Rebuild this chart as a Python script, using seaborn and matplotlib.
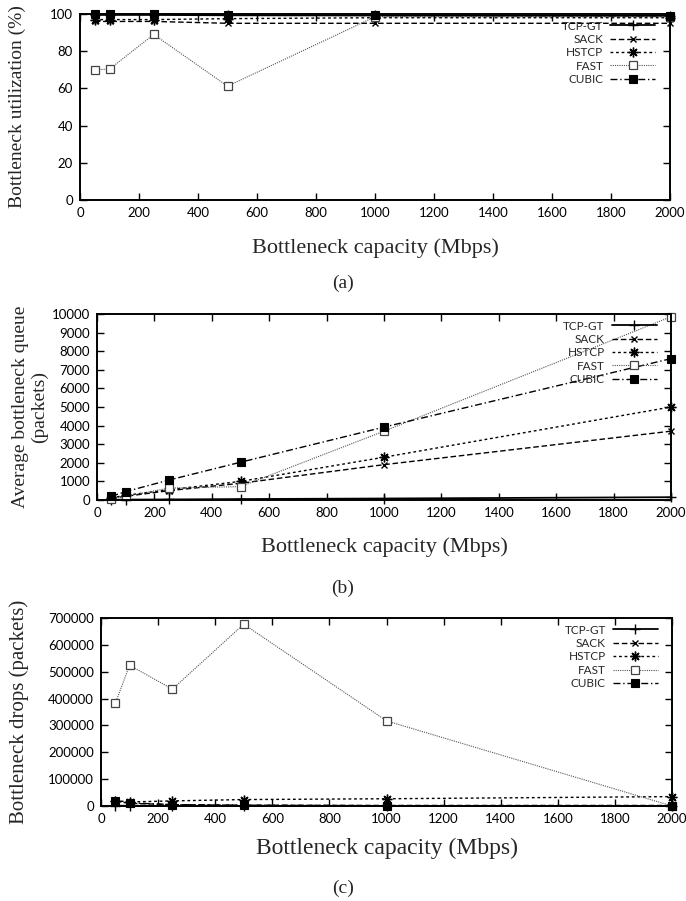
import numpy as np
import pandas as pd
import matplotlib
matplotlib.use("Agg")
import matplotlib.pyplot as plt
import seaborn as sns

# ---------------- data ----------------
capacity = [50, 100, 250, 500, 1000, 2000]
protocols = ["TCP-GT", "SACK", "HSTCP", "FAST", "CUBIC"]

util_tcpgt = [99.5, 99.5, 99.5, 99.3, 99.2, 99.0]
util_sack = [96.0, 96.0, 96.0, 95.0, 95.0, 95.0]
util_hstcp = [97.0, 97.0, 97.0, 97.5, 98.0, 98.0]
util_fast = [70.0, 70.4, 89.0, 61.2, 98.5, 98.5]
util_cubic = [100.0, 100.0, 100.0, 99.5, 99.2, 99.0]

queue_tcpgt = [10, 20, 30, 50, 80, 150]
queue_sack = [100, 200, 500, 900, 1900, 3700]
queue_hstcp = [120, 250, 550, 1000, 2300, 5000]
queue_fast = [60, 200, 640, 720, 3700, 9850]
queue_cubic = [200, 450, 1070, 2030, 3920, 7600]

drops_tcpgt = [1000, 800, 600, 500, 400, 300]
drops_sack = [18000, 10000, 5000, 3000, 2000, 2000]
drops_hstcp = [20000, 15000, 19000, 24000, 27000, 35000]
drops_fast = [382000, 524000, 435000, 677000, 317000, 0]
drops_cubic = [20000, 12000, 5000, 3000, 1000, 1000]

xticks = [0, 200, 400, 600, 800, 1000, 1200, 1400, 1600, 1800, 2000]
yticks_a = [0, 20, 40, 60, 80, 100]
yticks_b = [0, 1000, 2000, 3000, 4000, 5000, 6000, 7000, 8000, 9000, 10000]
yticks_c = [0, 100000, 200000, 300000, 400000, 500000, 600000, 700000]

xlabel = "Bottleneck capacity (Mbps)"
ylabels = ["Bottleneck utilization (%)",
           "Average bottleneck queue\n(packets)",
           "Bottleneck drops (packets)"]
panel_tags = ["(a)", "(b)", "(c)"]

# ---------------- style ----------------
sns.set_style("ticks")
plt.rcParams["font.family"] = ["Lato", "DejaVu Sans"]
SERIF = ["Liberation Serif", "DejaVu Serif"]

styles = {
    "TCP-GT": dict(color="black", linestyle="-", marker="+", markersize=7,
                   markeredgecolor="black", markeredgewidth=1.0, linewidth=1.3),
    "SACK": dict(color="black", linestyle=(0, (4, 2)), marker="x", markersize=5,
                 markeredgecolor="black", markeredgewidth=1.0, linewidth=1.0),
    "HSTCP": dict(color="black", linestyle=(0, (2, 2)), marker=(8, 2, 0), markersize=7,
                  markeredgecolor="black", markeredgewidth=1.0, linewidth=1.0),
    "FAST": dict(color="#555555", linestyle=(0, (1, 1)), marker="s", markersize=6,
                 markeredgecolor="#444444", markerfacecolor="white",
                 markeredgewidth=0.9, linewidth=0.8),
    "CUBIC": dict(color="black", linestyle=(0, (5, 2, 1, 2)), marker="s", markersize=6,
                  markeredgecolor="black", markerfacecolor="black",
                  markeredgewidth=0.8, linewidth=1.0),
}

panels = [
    dict(series=[util_tcpgt, util_sack, util_hstcp, util_fast, util_cubic],
         yticks=yticks_a, rect=[80 / 686, 1 - 200 / 901, 590 / 686, 186 / 901],
         xlab_y=-0.258, tag_y=283, xfs=16, yfs=14, ylx=17),
    dict(series=[queue_tcpgt, queue_sack, queue_hstcp, queue_fast, queue_cubic],
         yticks=yticks_b, rect=[97 / 686, 1 - 500 / 901, 574 / 686, 186 / 901],
         xlab_y=-0.255, tag_y=588, xfs=16, yfs=14, ylx=30),
    dict(series=[drops_tcpgt, drops_sack, drops_hstcp, drops_fast, drops_cubic],
         yticks=yticks_c, rect=[101 / 686, 1 - 806 / 901, 571 / 686, 188 / 901],
         xlab_y=-0.225, tag_y=888, xfs=17, yfs=15, ylx=19),
]

fig = plt.figure(figsize=(6.86, 9.01), dpi=100)

for i, p in enumerate(panels):
    ax = fig.add_axes(p["rect"])
    rows = []
    for name, vals in zip(protocols, p["series"]):
        for xv, yv in zip(capacity, vals):
            rows.append((name, xv, yv))
    df = pd.DataFrame(rows, columns=["protocol", "capacity", "value"])
    for name in protocols:
        sub = df[df["protocol"] == name]
        sns.lineplot(data=sub, x="capacity", y="value", ax=ax, label=name,
                     errorbar=None, clip_on=False, **styles[name])
    ax.set_xlim(0, 2000)
    ax.set_ylim(p["yticks"][0], p["yticks"][-1])
    ax.set_xticks(xticks)
    ax.set_xticklabels([str(t) for t in xticks])
    ax.set_yticks(p["yticks"])
    ax.set_yticklabels([str(t) for t in p["yticks"]])
    ax.tick_params(direction="in", top=True, right=True, length=5, width=1.0,
                   labelsize=9.5, pad=5, colors="black")
    for s in ax.spines.values():
        s.set_visible(True)
        s.set_linewidth(1.4)
        s.set_color("black")
    ax.set_xlabel(xlabel, fontsize=p["xfs"], family=SERIF)
    ax.xaxis.set_label_coords(0.5, p["xlab_y"])
    ax.xaxis.label.set_va("center")
    ax.set_ylabel("")
    fig.text(p["ylx"] / 686, p["rect"][1] + p["rect"][3] / 2,
             ylabels[i], rotation=90, ha="center", va="center",
             fontsize=p["yfs"], family=SERIF, linespacing=1.15)
    fig.text(343 / 686, 1 - p["tag_y"] / 901, panel_tags[i], ha="center",
             va="center", fontsize=14, family=SERIF)
    ax.legend(loc="upper right", bbox_to_anchor=(0.975, 0.965),
              frameon=False, markerfirst=False, fontsize=8.5,
              handlelength=3.8, handletextpad=0.6, labelspacing=0.2,
              borderpad=0.0, borderaxespad=0.0)

fig.savefig("out.png", dpi=100)
